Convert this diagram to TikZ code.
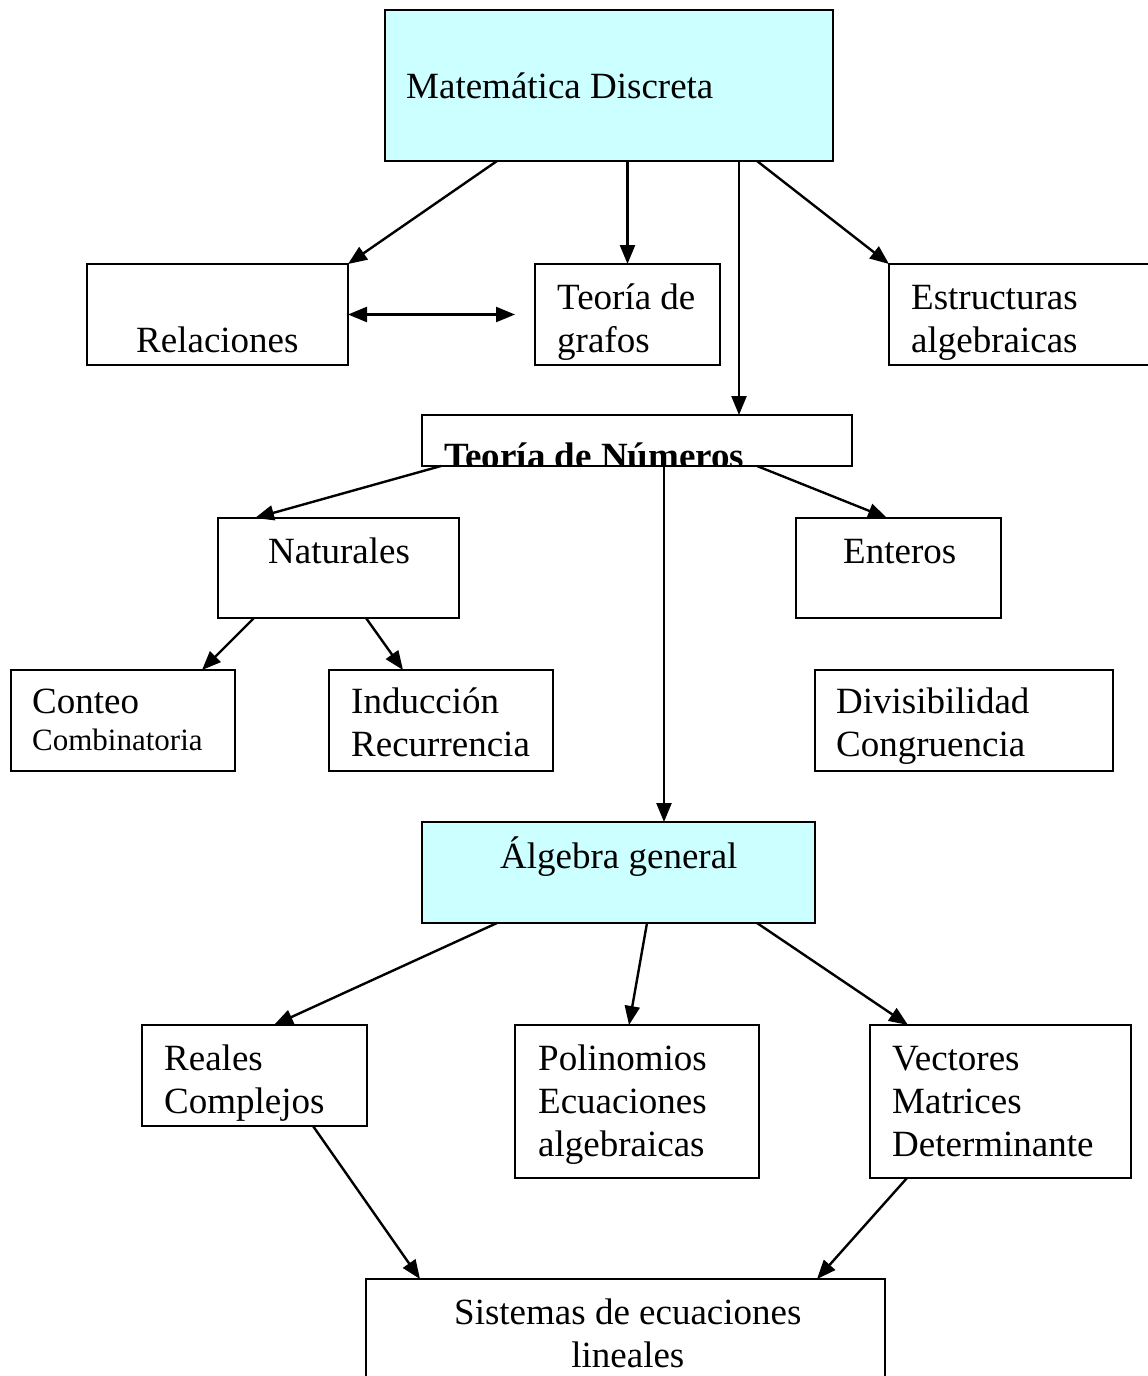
\documentclass[tikz,border=0pt]{standalone}
\usepackage{fontspec}
\setmainfont{Liberation Serif}
\usetikzlibrary{arrows.meta}
\definecolor{celeste}{HTML}{CCFFFF}
\tikzstyle{caja}=[rectangle, draw=black, anchor=north west, outer sep=0pt, inner sep=0pt]
\tikzstyle{flecha}=[-{Triangle[length=19pt,width=15pt]}]
\tikzstyle{doble}=[{Triangle[length=19pt,width=15pt]}-{Triangle[length=19pt,width=15pt]}]
\tikzstyle{renglon}=[anchor=base west, align=left, inner sep=0pt]
\newcommand{\texto}[5][]{%
  \begin{scope}
    \clip (#2.south west) rectangle (#2.north east);
    \node[renglon,#1] (#2-t) at ([shift={(#3pt,-#4pt)}]#2.north west) {#5};
  \end{scope}}

\begin{document}
\begin{tikzpicture}[x=1pt, y=-1pt, line width=2.4pt, font=\fontsize{37}{43}\selectfont]
				\useasboundingbox (0,0) rectangle (1148,1376);
				\node[caja, fill=celeste, minimum width=448, minimum height=151] (mat) at (385,10) {};
				\node[caja, minimum width=261, minimum height=101] (rel) at (87,264) {};
				\node[caja, minimum width=185, minimum height=101] (graf) at (535,264) {};
				\node[caja, minimum width=300, minimum height=101] (est) at (889,264) {};
				\node[caja, minimum width=430, minimum height=51] (num) at (422,415) {};
				\node[caja, minimum width=241, minimum height=100] (nat) at (218,518) {};
				\node[caja, minimum width=205, minimum height=100] (ent) at (796,518) {};
				\node[caja, minimum width=224, minimum height=101] (con) at (11,670) {};
				\node[caja, minimum width=224, minimum height=101] (ind) at (329,670) {};
				\node[caja, minimum width=298, minimum height=101] (div) at (815,670) {};
				\node[caja, fill=celeste, minimum width=393, minimum height=101] (alg) at (422,822) {};
				\node[caja, minimum width=225, minimum height=101] (rea) at (142,1025) {};
				\node[caja, minimum width=244, minimum height=153] (pol) at (515,1025) {};
				\node[caja, minimum width=261, minimum height=153] (vec) at (870,1025) {};
				\node[caja, minimum width=519, minimum height=130] (sis) at (366,1279) {};
				\texto{mat}{20}{88}{Matemática Discreta}
				\texto{rel}{48}{88}{Relaciones}
				\texto{graf}{21}{88}{Teoría de\\grafos}
				\texto{est}{21}{88}{Estructuras\\algebraicas}
				\texto{num}{21}{53}{\bfseries Teoría de Números}
				\texto{nat}{49}{45}{Naturales}
				\texto{ent}{46}{45}{Enteros}
				\texto{con}{20}{80}{Conteo\\[-6pt]{\fontsize{31}{37}\selectfont Combinatoria}}
				\texto{ind}{21}{86}{Inducción\\Recurrencia}
				\texto{div}{20}{86}{Divisibilidad\\Congruencia}
				\texto{alg}{77}{46}{Álgebra general}
				\texto{rea}{21}{88}{Reales\\Complejos}
				\texto{pol}{22}{131}{Polinomios\\Ecuaciones\\algebraicas}
				\texto{vec}{21}{131}{Vectores\\Matrices\\Determinante}
				\texto[align=center]{sis}{87}{88}{Sistemas de ecuaciones\\lineales}
				\draw[flecha] ([xshift=112pt]mat.south west) -- (rel.north east);
				\draw[flecha] (mat.south -| graf.north) -- (graf.north);
				\draw[flecha] ([xshift=354pt]mat.south west) -- ([xshift=317pt]num.north west);
				\draw[flecha] ([xshift=372pt]mat.south west) -- (est.north west);
				\draw[doble] (rel.east) -- ([xshift=-20pt]graf.west);
				\draw[flecha] ([xshift=19pt]num.south west) -- ([xshift=37pt]nat.north west);
				\draw[flecha] ([xshift=242pt]num.south west) -- ([xshift=242pt]alg.north west);
				\draw[flecha] ([xshift=335pt]num.south west) -- ([xshift=91pt]ent.north west);
				\draw[flecha] ([xshift=36pt]nat.south west) -- ([xshift=191pt]con.north west);
				\draw[flecha] ([xshift=148pt]nat.south west) -- ([xshift=74pt]ind.north west);
				\draw[flecha] ([xshift=75pt]alg.south west) -- ([xshift=132pt]rea.north west);
				\draw[flecha] ([xshift=225pt]alg.south west) -- ([xshift=114pt]pol.north west);
				\draw[flecha] ([xshift=335pt]alg.south west) -- ([xshift=38pt]vec.north west);
				\draw[flecha] ([xshift=171pt]rea.south west) -- ([xshift=54pt]sis.north west);
				\draw[flecha] ([xshift=37pt]vec.south west) -- ([xshift=451pt]sis.north west);
			\end{tikzpicture}
\end{document}
